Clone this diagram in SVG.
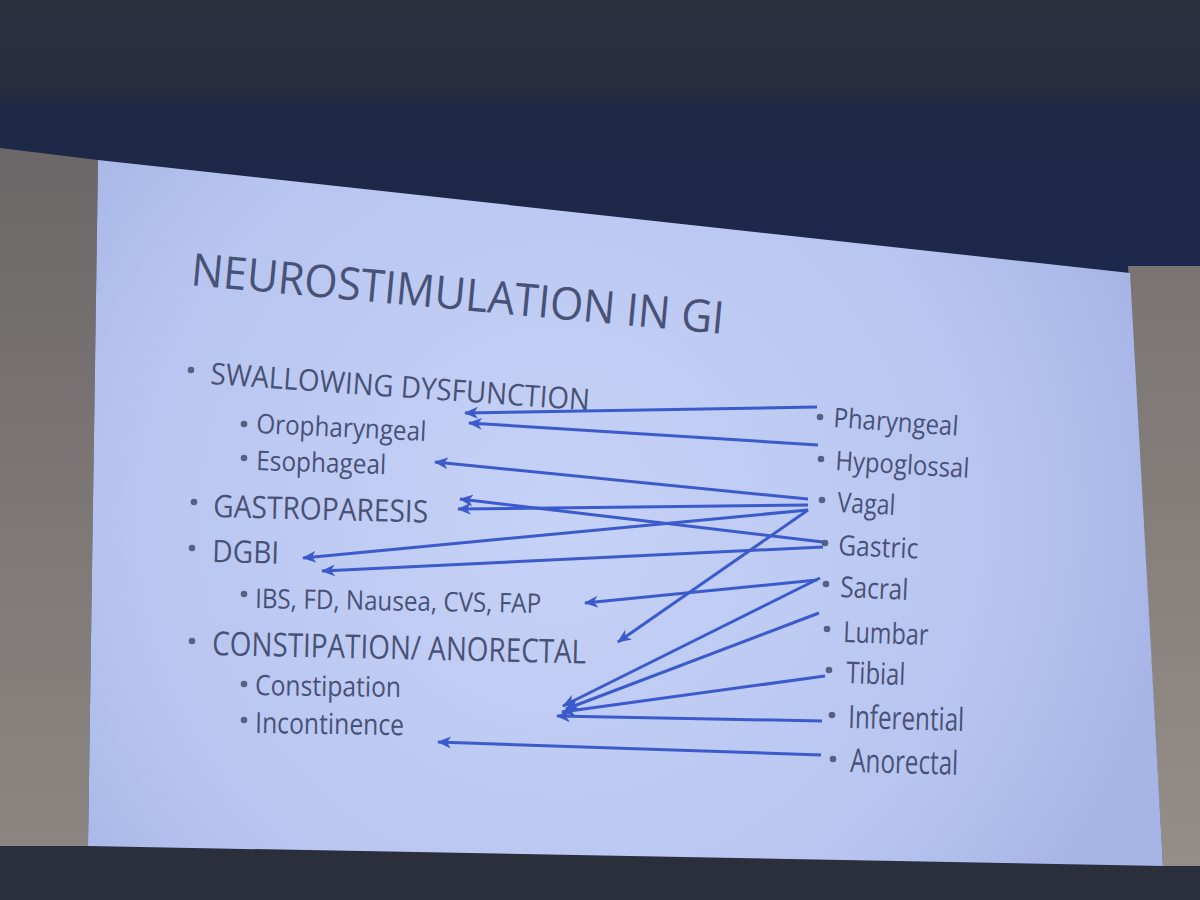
<svg xmlns="http://www.w3.org/2000/svg" width="1200" height="900" viewBox="0 0 1200 900">
<style>
.t{font-family:"Open Sans","Liberation Sans",sans-serif;fill:#485176}
.b{fill:#566082}
.c{stroke:#3b5bcc;stroke-width:3;fill:none;marker-end:url(#ah)}
</style>
<defs>
<linearGradient id="sky" x1="0" y1="0" x2="0" y2="300" gradientUnits="userSpaceOnUse">
<stop offset="0" stop-color="#2c2f3e"/><stop offset="0.3" stop-color="#282c3f"/><stop offset="0.36" stop-color="#1e2846"/><stop offset="1" stop-color="#1c284c"/>
</linearGradient>
<linearGradient id="wallL" x1="0" y1="150" x2="0" y2="846" gradientUnits="userSpaceOnUse">
<stop offset="0" stop-color="#6c6768"/><stop offset="1" stop-color="#8c8682"/>
</linearGradient>
<linearGradient id="wallR" x1="0" y1="270" x2="0" y2="865" gradientUnits="userSpaceOnUse">
<stop offset="0" stop-color="#7a7473"/><stop offset="1" stop-color="#958e88"/>
</linearGradient>
<radialGradient id="slide" cx="560" cy="520" r="620" gradientUnits="userSpaceOnUse">
<stop offset="0" stop-color="#c6d2f6"/><stop offset="0.7" stop-color="#b8c5f0"/><stop offset="1" stop-color="#a6b5e6"/>
</radialGradient>
<marker id="ah" markerUnits="userSpaceOnUse" markerWidth="16" markerHeight="12" refX="13" refY="6" orient="auto">
<path d="M0,0 L14,6 L0,12 L4,6 z" fill="#3b5bcc"/>
</marker>
</defs>
<rect width="1200" height="900" fill="url(#sky)"/>
<polygon points="0,148 98,160 88,846 0,846" fill="url(#wallL)"/>
<polygon points="1128,266 1200,266 1200,866 1163,866" fill="url(#wallR)"/>
<polygon points="0,846 88,846 1163,866 1200,866 1200,900 0,900" fill="#2b2f3c"/>
<polygon points="98,160 1130,273 1163,866 88,846" fill="url(#slide)"/>

<g id="title"><text class="t" x="190" y="285" font-size="45" textLength="535" lengthAdjust="spacingAndGlyphs" transform="rotate(5.25 190 285)">NEUROSTIMULATION IN GI</text></g>

<g id="swallowing"><circle class="b" cx="191" cy="370" r="3.3"/><text class="t" x="210" y="384" font-size="30" textLength="380" lengthAdjust="spacingAndGlyphs" transform="rotate(4 210 384)">SWALLOWING DYSFUNCTION</text></g>
<g id="oropharyngeal"><circle class="b" cx="244" cy="424" r="3.3"/><text class="t" x="256" y="433" font-size="27" textLength="170" lengthAdjust="spacingAndGlyphs" transform="rotate(2.7 256 433)">Oropharyngeal</text></g>
<g id="esophageal"><circle class="b" cx="244" cy="458" r="3.3"/><text class="t" x="256" y="470" font-size="27" textLength="130" lengthAdjust="spacingAndGlyphs" transform="rotate(1.8 256 470)">Esophageal</text></g>
<g id="gastroparesis"><circle class="b" cx="194" cy="502" r="3.3"/><text class="t" x="213" y="517" font-size="31" textLength="215" lengthAdjust="spacingAndGlyphs" transform="rotate(1.5 213 517)">GASTROPARESIS</text></g>
<g id="dgbi"><circle class="b" cx="192" cy="548" r="3.3"/><text class="t" x="212" y="562" font-size="31" textLength="67" lengthAdjust="spacingAndGlyphs" transform="rotate(1.5 212 562)">DGBI</text></g>
<g id="ibs"><circle class="b" cx="244" cy="594" r="3.3"/><text class="t" x="255" y="608" font-size="27" textLength="286" lengthAdjust="spacingAndGlyphs" transform="rotate(1 255 608)">IBS, FD, Nausea, CVS, FAP</text></g>
<g id="constipation-anorectal"><circle class="b" cx="192" cy="641" r="3.3"/><text class="t" x="212" y="655" font-size="33" textLength="374" lengthAdjust="spacingAndGlyphs" transform="rotate(1.3 212 655)">CONSTIPATION/ ANORECTAL</text></g>
<g id="constipation"><circle class="b" cx="244" cy="684" r="3.3"/><text class="t" x="255" y="695" font-size="28" textLength="146" lengthAdjust="spacingAndGlyphs" transform="rotate(0.8 255 695)">Constipation</text></g>
<g id="incontinence"><circle class="b" cx="244" cy="720" r="3.3"/><text class="t" x="255" y="733" font-size="29" textLength="149" lengthAdjust="spacingAndGlyphs" transform="rotate(0.8 255 733)">Incontinence</text></g>

<g id="pharyngeal"><circle class="b" cx="820" cy="417" r="3.3"/><text class="t" x="833" y="427" font-size="27" textLength="125" lengthAdjust="spacingAndGlyphs" transform="rotate(4 833 427)">Pharyngeal</text></g>
<g id="hypoglossal"><circle class="b" cx="821" cy="459" r="3.3"/><text class="t" x="835" y="470" font-size="27" textLength="134" lengthAdjust="spacingAndGlyphs" transform="rotate(3.4 835 470)">Hypoglossal</text></g>
<g id="vagal"><circle class="b" cx="822" cy="500" r="3.3"/><text class="t" x="837" y="512" font-size="28" textLength="58" lengthAdjust="spacingAndGlyphs" transform="rotate(3 837 512)">Vagal</text></g>
<g id="gastric"><circle class="b" cx="825" cy="543" r="3.3"/><text class="t" x="838" y="555" font-size="28" textLength="80" lengthAdjust="spacingAndGlyphs" transform="rotate(2.5 838 555)">Gastric</text></g>
<g id="sacral"><circle class="b" cx="826" cy="584" r="3.3"/><text class="t" x="840" y="597" font-size="29" textLength="68" lengthAdjust="spacingAndGlyphs" transform="rotate(2.5 840 597)">Sacral</text></g>
<g id="lumbar"><circle class="b" cx="827" cy="629" r="3.3"/><text class="t" x="843" y="642" font-size="29" textLength="85" lengthAdjust="spacingAndGlyphs" transform="rotate(2 843 642)">Lumbar</text></g>
<g id="tibial"><circle class="b" cx="829" cy="670" r="3.3"/><text class="t" x="846" y="683" font-size="30" textLength="59" lengthAdjust="spacingAndGlyphs" transform="rotate(2 846 683)">Tibial</text></g>
<g id="inferential"><circle class="b" cx="832" cy="715" r="3.3"/><text class="t" x="848" y="728" font-size="32" textLength="116" lengthAdjust="spacingAndGlyphs" transform="rotate(1.5 848 728)">Inferential</text></g>
<g id="anorectal"><circle class="b" cx="833" cy="759" r="3.3"/><text class="t" x="850" y="772" font-size="33" textLength="108" lengthAdjust="spacingAndGlyphs" transform="rotate(1.5 850 772)">Anorectal</text></g>

<g id="connectors">
<line class="c" x1="817" y1="407" x2="465" y2="413"/>
<line class="c" x1="818" y1="445" x2="469" y2="423"/>
<line class="c" x1="808" y1="499" x2="435" y2="462"/>
<line class="c" x1="808" y1="505" x2="458" y2="509"/>
<line class="c" x1="823" y1="542" x2="460" y2="499"/>
<line class="c" x1="808" y1="510" x2="303" y2="558"/>
<line class="c" x1="823" y1="547" x2="322" y2="571"/>
<line class="c" x1="817" y1="580" x2="585" y2="603"/>
<line class="c" x1="808" y1="510" x2="618" y2="642"/>
<line class="c" x1="820" y1="578" x2="563" y2="706"/>
<line class="c" x1="819" y1="613" x2="566" y2="709"/>
<line class="c" x1="825" y1="676" x2="562" y2="712"/>
<line class="c" x1="822" y1="721" x2="557" y2="716"/>
<line class="c" x1="821" y1="755" x2="438" y2="742"/>
</g>
</svg>
